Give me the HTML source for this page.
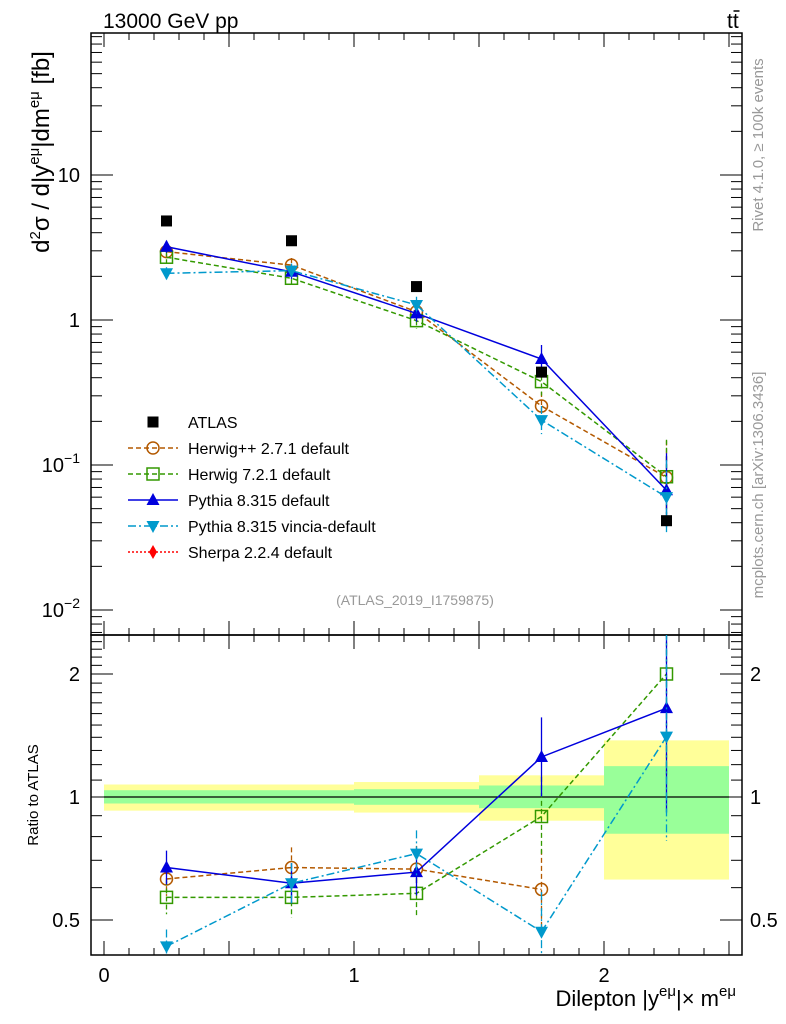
<!DOCTYPE html>
<html><head><meta charset="utf-8"><style>
html,body{margin:0;padding:0;background:#fff;}
svg{display:block;font-family:"Liberation Sans",sans-serif;}
</style></head><body>
<svg id="chart" width="786" height="1024" viewBox="0 0 786 1024" xmlns="http://www.w3.org/2000/svg">
<defs>
<clipPath id="cm"><rect x="91" y="33" width="651" height="602"/></clipPath>
<clipPath id="cr"><rect x="91" y="635" width="651" height="320"/></clipPath>
</defs>
<g id="bands" clip-path="url(#cr)"></g>
<g id="axes"></g>
<g id="mainmarks" clip-path="url(#cm)"></g>
<g id="ratiomarks" clip-path="url(#cr)"></g>
<text x="103" y="28" font-size="21">13000 GeV pp</text>
<g>
<text x="727" y="28" font-size="21">tt</text>
<line x1="733.5" x2="739.5" y1="11" y2="11" stroke="#000" stroke-width="1.5"/>
</g>
<text transform="translate(763,145) rotate(-90)" text-anchor="middle" font-size="15" fill="#999">Rivet 4.1.0, ≥ 100k events</text>
<text transform="translate(763,485) rotate(-90)" text-anchor="middle" font-size="15" fill="#999">mcplots.cern.ch [arXiv:1306.3436]</text>
<text x="415" y="605" text-anchor="middle" font-size="14" fill="#999">(ATLAS_2019_I1759875)</text>
<text transform="translate(49,152) rotate(-90)" text-anchor="middle" font-size="24">d<tspan dy="-9" font-size="15">2</tspan><tspan dy="9">σ / d|y</tspan><tspan dy="-10" font-size="15">eμ</tspan><tspan dy="10">|dm</tspan><tspan dy="-10" font-size="15">eμ</tspan><tspan dy="10"> [fb]</tspan></text>
<text transform="translate(38,795) rotate(-90)" text-anchor="middle" font-size="15">Ratio to ATLAS</text>
<text x="736" y="1006" text-anchor="end" font-size="22">Dilepton |y<tspan dy="-10" font-size="15">eμ</tspan><tspan dy="10">|× m</tspan><tspan dy="-10" font-size="15">eμ</tspan></text>
<g id="legend"></g>
</svg>
<script>
const xCenters = [0.25, 0.75, 1.25, 1.75, 2.25];
const binEdges = [0, 1, 1.5, 2, 2.5];
const atlasVals = [4.82, 3.52, 1.70, 0.437, 0.0413];
const herwigppVals = [2.96, 2.39, 1.14, 0.255, 0.082];
const herwig7Vals = [2.71, 1.94, 0.99, 0.376, 0.083];
const pythiaVals = [3.2, 2.15, 1.11, 0.538, 0.067];
const vinciaVals = [2.1, 2.19, 1.27, 0.204, 0.060];
const herwigppRatio = [0.63, 0.672, 0.666, 0.594, null];
const herwig7Ratio = [0.568, 0.568, 0.581, 0.896, 2.0];
const pythiaRatio = [0.672, 0.615, 0.655, 1.253, 1.65];
const vinciaRatio = [0.431, 0.615, 0.727, 0.468, 1.405];
const relErr = [0.1, 0.12, 0.14, 0.25, 0.8];
const bandYellowHi = [1.073, 1.088, 1.13, 1.376];
const bandYellowLo = [0.926, 0.916, 0.875, 0.628];
const bandGreenHi = [1.039, 1.045, 1.067, 1.19];
const bandGreenLo = [0.964, 0.957, 0.939, 0.813];
const mainTicks = [10, 1, 0.1, 0.01];
const mainTickLabels = ["10", "1", "10^-1", "10^-2"];
const ratioTicks = [2, 1, 0.5];
const ratioTickLabels = ["2", "1", "0.5"];
const xTicks = [0, 1, 2];

const NS = "http://www.w3.org/2000/svg";
const L = 91, R = 742, MT = 33, MB = 635, RB = 955;
const X = v => 104 + 250 * v;
const YM = v => 320 - 145 * Math.log10(v);
const YR = r => 797 - 123 * Math.log2(r);
function mk(parent, tag, attrs) {
  const e = document.createElementNS(NS, tag);
  for (const k in attrs) e.setAttribute(k, attrs[k]);
  parent.appendChild(e);
  return e;
}
const axes = document.getElementById('axes');
const bands = document.getElementById('bands');
const mm = document.getElementById('mainmarks');
const rm = document.getElementById('ratiomarks');

for (let i = 0; i < 4; i++) {
  const y1 = mk(bands, 'rect', {x: X(binEdges[i]), y: YR(bandYellowHi[i]), width: X(binEdges[i+1]) - X(binEdges[i]), height: YR(bandYellowLo[i]) - YR(bandYellowHi[i]), fill: '#ffff99'});
  
  
  const g1 = mk(bands, 'rect', {x: X(binEdges[i]), y: YR(bandGreenHi[i]), width: X(binEdges[i+1]) - X(binEdges[i]), height: YR(bandGreenLo[i]) - YR(bandGreenHi[i]), fill: '#99ff99'});
  
  
}
const ref = mk(bands, 'line', {x1: X(0), x2: X(2.5), y1: YR(1), y2: YR(1), stroke: '#000', 'stroke-width': 1.3});



const f1 = mk(axes, 'rect', {x: L, y: MT, width: R - L, height: MB - MT, fill: 'none', stroke: '#000', 'stroke-width': 1.5});


const f2 = mk(axes, 'rect', {x: L, y: MB, width: R - L, height: RB - MB, fill: 'none', stroke: '#000', 'stroke-width': 1.5});



for (let k = 0; k <= 25; k++) {
  const v = k / 10, x = X(v);
  if (x < L || x > R) continue;
  const len = (k % 5 === 0) ? 14 : 7;
  [[MT, 1], [MB, -1], [MB, 1], [RB, -1]].forEach(([y0, d]) => {
    mk(axes, 'line', {x1: x, x2: x, y1: y0, y2: y0 + d * len, stroke: '#000', 'stroke-width': 1});
  });
}
xTicks.forEach(v => {
  const t = mk(axes, 'text', {x: X(v), y: 982, 'text-anchor': 'middle', 'font-size': 20});
  t.textContent = v;
  
  
});
for (let d = -3; d <= 1; d++) {
  for (let m = 1; m <= 9; m++) {
    const v = m * Math.pow(10, d), y = YM(v);
    if (y < MT || y > MB) continue;
    const len = m === 1 ? 22 : 11;
    mk(axes, 'line', {x1: L, x2: L + len, y1: y, y2: y, stroke: '#000', 'stroke-width': 1});
    mk(axes, 'line', {x1: R, x2: R - len, y1: y, y2: y, stroke: '#000', 'stroke-width': 1});
  }
}
mainTicks.forEach((v, i) => {
  const lab = mainTickLabels[i];
  const t = mk(axes, 'text', {x: 80, y: YM(v) + 7, 'text-anchor': 'end', 'font-size': 20});
  if (lab.includes('^')) {
    const [b, e] = lab.split('^');
    t.textContent = b;
    const ts = mk(t, 'tspan', {dy: -9, 'font-size': 14});
    ts.textContent = e.replace('-', '−');
  } else t.textContent = lab;
  
  
});
for (let r = 0.4; r <= 2.5; r += 0.1) {
  const y = YR(r);
  if (y < MB || y > RB) continue;
  const big = Math.abs(r - 0.5) < 1e-6 || Math.abs(r - 1) < 1e-6 || Math.abs(r - 2) < 1e-6;
  const len = big ? 22 : 11;
  mk(axes, 'line', {x1: L, x2: L + len, y1: y, y2: y, stroke: '#000', 'stroke-width': 1});
  mk(axes, 'line', {x1: R, x2: R - len, y1: y, y2: y, stroke: '#000', 'stroke-width': 1});
}
ratioTicks.forEach((v, i) => {
  const t = mk(axes, 'text', {x: 80, y: YR(v) + 7, 'text-anchor': 'end', 'font-size': 20});
  t.textContent = ratioTickLabels[i];
  
  
  const t2 = mk(axes, 'text', {x: 750, y: YR(v) + 7, 'font-size': 20});
  t2.textContent = ratioTickLabels[i];
  
  
});

function marker(g, type, x, y, color) {
  let e;
  if (type === 'sq') e = mk(g, 'rect', {x: x - 5.5, y: y - 5.5, width: 11, height: 11, fill: '#000'});
  if (type === 'circ') e = mk(g, 'circle', {cx: x, cy: y, r: 6, fill: 'none', stroke: color, 'stroke-width': 1.5});
  if (type === 'osq') e = mk(g, 'rect', {x: x - 6, y: y - 6, width: 12, height: 12, fill: 'none', stroke: color, 'stroke-width': 1.5});
  if (type === 'tri') e = mk(g, 'path', {d: `M${x},${y-7} L${x+6.5},${y+5} L${x-6.5},${y+5}Z`, fill: color});
  if (type === 'itri') e = mk(g, 'path', {d: `M${x},${y+7} L${x+6.5},${y-5} L${x-6.5},${y-5}Z`, fill: color});
  if (type === 'dia') e = mk(g, 'path', {d: `M${x},${y-7} L${x+4},${y} L${x},${y+7} L${x-4},${y}Z`, fill: color});
  return e;
}
const series = [
  {name: 'herwigpp', vals: herwigppVals, ratio: herwigppRatio, color: '#b35900', dash: '5,3', m: 'circ'},
  {name: 'herwig7', vals: herwig7Vals, ratio: herwig7Ratio, color: '#339900', dash: '5,3', m: 'osq'},
  {name: 'pythia', vals: pythiaVals, ratio: pythiaRatio, color: '#0000dd', dash: '', m: 'tri'},
  {name: 'vincia', vals: vinciaVals, ratio: vinciaRatio, color: '#0099cc', dash: '8,3,2,3', m: 'itri'}
];
series.forEach(s => {
  [[mm, s.vals, YM, 'main'], [rm, s.ratio, YR, 'ratio']].forEach(([g, arr, Y, tag]) => {
    const pts = arr.map((v, i) => v == null ? null : `${X(xCenters[i])},${Y(v)}`).filter(p => p).join(' ');
    const pl = mk(g, 'polyline', {points: pts, fill: 'none', stroke: s.color, 'stroke-width': 1.5, 'stroke-dasharray': s.dash});
    
    
    arr.forEach((v, i) => {
      if (v == null) return;
      const x = X(xCenters[i]), e = relErr[i];
      mk(g, 'line', {x1: x, x2: x, y1: Y(v * (1 + e)), y2: Y(v / (1 + e)), stroke: s.color, 'stroke-width': 1.3, 'stroke-dasharray': s.dash});
      const mkr = marker(g, s.m, x, Y(v), s.color);
      
      
    });
  });
});
atlasVals.forEach((v, i) => {
  const mkr = marker(mm, 'sq', X(xCenters[i]), YM(v), '#000');
  
  
});

const lg = document.getElementById('legend');
const entries = [
  ['ATLAS', 'sq', '#000', null],
  ['Herwig++ 2.7.1 default', 'circ', '#b35900', '5,3'],
  ['Herwig 7.2.1 default', 'osq', '#339900', '5,3'],
  ['Pythia 8.315 default', 'tri', '#0000dd', ''],
  ['Pythia 8.315 vincia-default', 'itri', '#0099cc', '8,3,2,3'],
  ['Sherpa 2.2.4 default', 'dia', '#ff0000', '2,2']
];
entries.forEach((en, i) => {
  const y = 422 + i * 26;
  const g = mk(lg, 'g', {});
  
  
  if (en[3] !== null) mk(g, 'line', {x1: 128, x2: 178, y1: y, y2: y, stroke: en[2], 'stroke-width': 1.5, 'stroke-dasharray': en[3]});
  marker(g, en[1], 153, y, en[2]);
  const t = mk(g, 'text', {x: 188, y: y + 6, 'font-size': 16});
  t.textContent = en[0];
});
</script>
</body></html>
